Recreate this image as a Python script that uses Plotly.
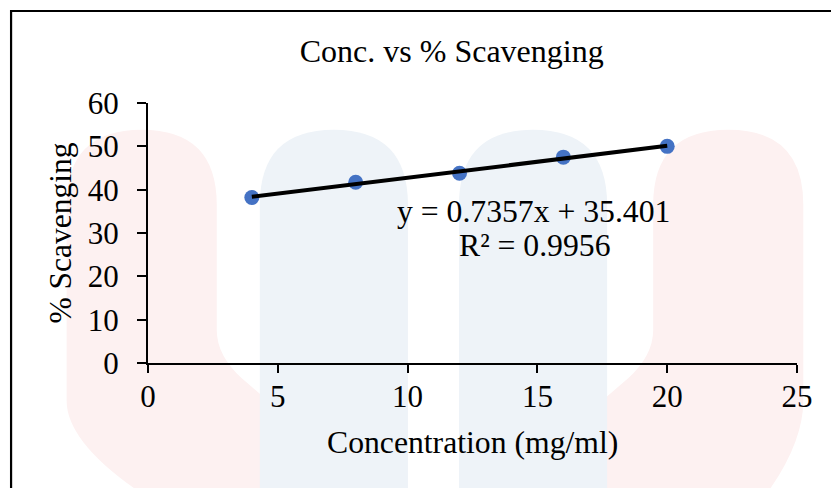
import plotly.graph_objects as go

# ---- data ----
concentration = [4, 8, 12, 16, 20]
scavenging = [38.2, 41.7, 43.8, 47.5, 50.0]
slope = 0.7357
intercept = 35.401
r_squared = 0.9956
x_ticks = [0, 5, 10, 15, 20, 25]
y_ticks = [0, 10, 20, 30, 40, 50, 60]

title_text = "Conc. vs % Scavenging"
x_title = "Concentration (mg/ml)"
y_title = "% Scavenging"

W, H = 831, 488
L, R, T, B = 148.3, 796.7, 103.3, 362.7
FONT = "Liberation Serif, Times New Roman, serif"


def px(X):
    return (X - L) / (R - L)


def py(Y):
    return (B - Y) / (B - T)


def path(cmds):
    out = []
    for c in cmds:
        if isinstance(c, str):
            out.append(c)
        else:
            out.append(f"{px(c[0]):.5f},{py(c[1]):.5f}")
    return " ".join(out)


fig = go.Figure()

fig.add_trace(go.Scatter(
    x=concentration, y=scavenging, mode="markers",
    marker=dict(color="#4472C4", size=15, line=dict(width=0)),
    showlegend=False, hoverinfo="x+y"))

trend_x = [min(concentration), max(concentration)]
trend_y = [slope * v + intercept for v in trend_x]
fig.add_trace(go.Scatter(
    x=trend_x, y=trend_y, mode="lines",
    line=dict(color="#000000", width=4),
    showlegend=False, hoverinfo="skip"))

red = "rgb(253,241,241)"
blue = "rgb(238,243,248)"
shapes = []
# watermark-like background forms
left_red = path(["M", (67, 205), "Q", (67, 130), (142, 130), "Q", (217, 130), (217, 205),
                 "L", (217, 330), "Q", (217, 355), (242, 378), "L", (370, 488),
                 "L", (135, 488), "Q", (67, 440), (67, 400), "Z"])
right_red = path(["M", (653, 205), "Q", (653, 130), (728, 130), "Q", (803, 130), (803, 205),
                  "L", (803, 400), "Q", (803, 440), (770, 488), "L", (500, 488),
                  "L", (628, 378), "Q", (653, 355), (653, 330), "Z"])
blue1 = path(["M", (260, 488), "L", (260, 205), "Q", (260, 130), (334, 130), "Q", (408, 130), (408, 205),
              "L", (408, 488), "Z"])
blue2 = path(["M", (459, 488), "L", (459, 205), "Q", (459, 130), (533, 130), "Q", (607, 130), (607, 205),
              "L", (607, 488), "Z"])
for p, c in [(left_red, red), (right_red, red), (blue1, blue), (blue2, blue)]:
    shapes.append(dict(type="path", path=p, xref="paper", yref="paper",
                       fillcolor=c, line=dict(width=0), layer="below"))
# outer chart border (left and top visible)
shapes.append(dict(type="rect", xref="paper", yref="paper",
                   x0=px(11.5), x1=px(900), y0=py(11.5), y1=py(600),
                   line=dict(color="#000000", width=2.2), fillcolor="rgba(0,0,0,0)", layer="above"))

annotations = [
    dict(text=f"y = {slope}x + {intercept}", x=px(533.5), y=py(212), xref="paper", yref="paper",
         showarrow=False, xanchor="center", yanchor="middle",
         font=dict(family=FONT, size=31.7, color="#000000")),
    dict(text=f"R² = {r_squared}", x=px(535), y=py(245.5), xref="paper", yref="paper",
         showarrow=False, xanchor="center", yanchor="middle",
         font=dict(family=FONT, size=31.7, color="#000000")),
    dict(text=x_title, x=px(472.5), y=py(442), xref="paper", yref="paper",
         showarrow=False, xanchor="center", yanchor="middle",
         font=dict(family=FONT, size=31.7, color="#000000")),
    dict(text=y_title, x=px(60), y=py(233), xref="paper", yref="paper",
         showarrow=False, xanchor="center", yanchor="middle", textangle=-90,
         font=dict(family=FONT, size=31.5, color="#000000")),
]

fig.update_layout(
    width=W, height=H,
    margin=dict(l=L, r=W - R, t=T, b=H - B, pad=0),
    paper_bgcolor="#ffffff", plot_bgcolor="rgba(0,0,0,0)",
    title=dict(text=title_text, x=451.7 / W, xref="container", xanchor="center",
               y=1 - 51 / H, yref="container", yanchor="middle",
               font=dict(family=FONT, size=32, color="#000000")),
    shapes=shapes, annotations=annotations,
    showlegend=False,
    font=dict(family=FONT, size=31, color="#000000"),
)
fig.update_xaxes(range=[0, 25], tickvals=x_ticks, ticktext=[str(v) for v in x_ticks],
                 showgrid=False, zeroline=False, showline=True, linecolor="#000000", linewidth=2,
                 ticks="outside", ticklen=8, tickwidth=1.8, tickcolor="#000000",
                 tickfont=dict(family=FONT, size=31, color="#000000"), ticklabelstandoff=-3)
fig.update_yaxes(range=[0, 60], tickvals=y_ticks, ticktext=[str(v) for v in y_ticks],
                 showgrid=False, zeroline=False, showline=True, linecolor="#000000", linewidth=2,
                 ticks="outside", ticklen=9, tickwidth=1.8, tickcolor="#000000",
                 tickfont=dict(family=FONT, size=31, color="#000000"), ticklabelstandoff=12)

fig.write_html("out.html")
